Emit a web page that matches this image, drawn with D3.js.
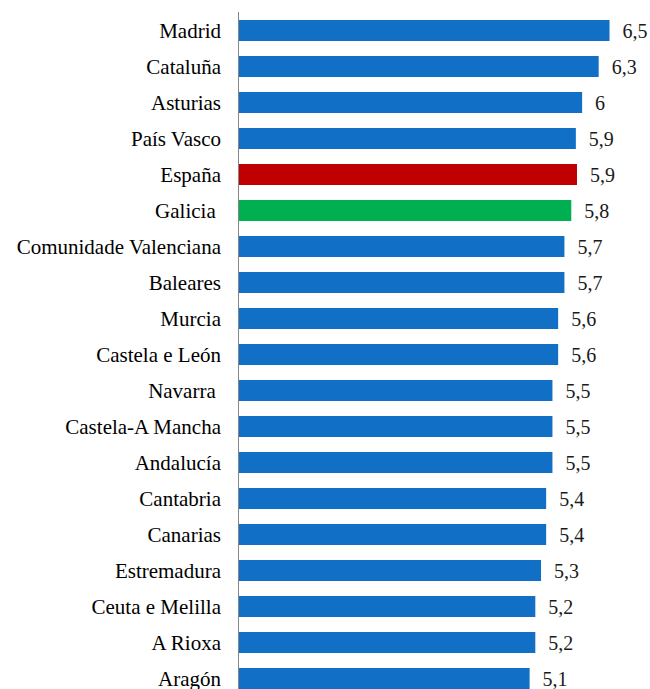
<!DOCTYPE html>
<html>
<head>
<meta charset="utf-8">
<script src="https://cdn.jsdelivr.net/npm/d3@7"></script>
</head>
<body style="margin:0">
<svg id="chart" width="650" height="689"></svg>
<script>
const categories = [
  "Madrid", "Cataluña", "Asturias", "País Vasco", "España", "Galicia ",
  "Comunidade Valenciana", "Baleares", "Murcia", "Castela e León", "Navarra ",
  "Castela-A Mancha", "Andalucía", "Cantabria", "Canarias", "Estremadura",
  "Ceuta e Melilla", "A Rioxa", "Aragón"
];
const values = [
  6.50, 6.31, 6.02, 5.91, 5.93, 5.83,
  5.71, 5.71, 5.60, 5.60, 5.50,
  5.50, 5.50, 5.39, 5.39, 5.30,
  5.20, 5.20, 5.10
];
const valueLabels = [
  "6,5", "6,3", "6", "5,9", "5,9", "5,8",
  "5,7", "5,7", "5,6", "5,6", "5,5",
  "5,5", "5,5", "5,4", "5,4", "5,3",
  "5,2", "5,2", "5,1"
];
const highlight = { "España": "#C00000", "Galicia ": "#00B050" };
const baseColor = "#1170C6";

const data = categories.map((c, i) => ({ cat: c, v: values[i], label: valueLabels[i] }));

const svg = d3.select("#chart");
const x0 = 238.5;
const x = d3.scaleLinear().domain([0, 7]).range([x0, x0 + 7 * 57.08]);
const p = 15 / 36;
const y = d3.scaleBand().domain(categories).range([12.5, 12.5 + 19 * 36])
  .paddingInner(p).paddingOuter(p / 2);

svg.append("g").selectAll("rect").data(data).join("rect")
  .attr("x", x(0) + 0.5)
  .attr("y", d => y(d.cat))
  .attr("width", d => x(d.v) - x(0) - 0.5)
  .attr("height", y.bandwidth())
  .attr("fill", d => highlight[d.cat] || baseColor);

svg.append("line").attr("x1", x0).attr("x2", x0).attr("y1", 12).attr("y2", 689)
  .attr("stroke", "#868686");

svg.selectAll("text.cat").data(data).join("text")
  .attr("class", "cat")
  .attr("x", x0 - 17.5)
  .attr("y", d => y(d.cat) + y.bandwidth() / 2 + 7)
  .attr("text-anchor", "end")
  .attr("xml:space", "preserve")
  .style("font-family", '"Liberation Serif"')
  .style("font-size", "21px")
  .text(d => d.cat);

svg.selectAll("text.val").data(data).join("text")
  .attr("class", "val")
  .attr("x", d => x(d.v) + 13)
  .attr("y", d => y(d.cat) + y.bandwidth() / 2 + 7)
  .style("font-family", '"Liberation Serif"')
  .style("font-size", "20px")
  .attr("fill", "#1a1a1a")
  .text(d => d.label);
</script>
</body>
</html>
